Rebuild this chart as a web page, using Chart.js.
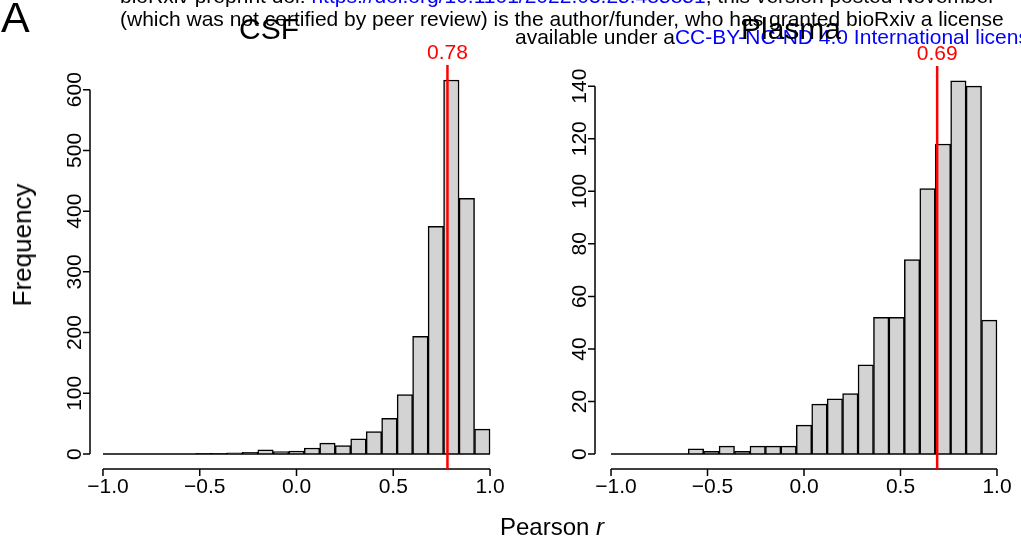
<!DOCTYPE html>
<html>
<head>
<meta charset="utf-8">
<script src="https://cdn.jsdelivr.net/npm/chart.js@4.4.1/dist/chart.umd.min.js"></script>
<style>
  html, body { margin: 0; padding: 0; background: #fff; }
  #wrap { position: relative; width: 1021px; height: 550px; overflow: hidden; font-family: "Liberation Sans", Arial, Helvetica, sans-serif; }
  canvas { position: absolute; left: 0; top: 0; }
  .txt { position: absolute; white-space: nowrap; line-height: 1; color: #000; }
  .blue { color: #0000ff; }
</style>
</head>
<body>
<div id="wrap">
  <canvas id="csf" width="1021" height="550"></canvas>
  <canvas id="plasma" width="1021" height="550"></canvas>

  <div class="txt" style="font-size:21px; left:120px; top:-15px;">bioRxiv preprint doi: <span class="blue">https://doi.org/10.1101/2022.03.25.485851</span>; this version posted November</div>
  <div class="txt" style="font-size:21px; left:120px; top:8px;">(which was not certified by peer review) is the author/funder, who has granted bioRxiv a license</div>
  <div class="txt" style="font-size:21px; left:515px; top:26px;">available under a<span class="blue">CC-BY-NC-ND 4.0 International license</span></div>

  <div class="txt" style="font-size:43px; left:1px; top:-4px;">A</div>
  <div class="txt" style="font-size:30px; left:269px; top:14px; transform:translateX(-50%);">CSF</div>
  <div class="txt" style="font-size:30px; left:791px; top:14px; transform:translateX(-50%);">Plasma</div>
  <div class="txt" style="font-size:26px; left:22px; top:245px; transform:translate(-50%,-50%) rotate(-90deg);">Frequency</div>
  <div class="txt" style="font-size:24px; left:552px; top:515px; transform:translateX(-50%);">Pearson <i>r</i></div>
</div>

<script>
// histogram bins: width 0.08 from -1 to 1
const binCenters = [-0.96, -0.88, -0.80, -0.72, -0.64, -0.56, -0.48, -0.40, -0.32, -0.24,
                    -0.16, -0.08, 0.00, 0.08, 0.16, 0.24, 0.32, 0.40, 0.48, 0.56,
                    0.64, 0.72, 0.80, 0.88, 0.96];
const csfCounts = [0, 0, 0, 0, 0, 0, 1, 1, 2, 3, 7, 4, 5, 10, 18, 14, 25, 37, 59, 98, 194, 375, 616, 421, 41];
const plasmaCounts = [0, 0, 0, 0, 0, 2, 1, 3, 1, 3, 3, 3, 11, 19, 21, 23, 34, 52, 52, 74, 101, 118, 142, 140, 51];

const xTicks = [-1, -0.5, 0, 0.5, 1];
const csfYTicks = [0, 100, 200, 300, 400, 500, 600];
const plasmaYTicks = [0, 20, 40, 60, 80, 100, 120, 140];

const csfMedian = 0.78;
const plasmaMedian = 0.69;

const FONT = '"Liberation Sans", Arial, Helvetica, sans-serif';

// R-style axes: detached lines spanning first..last tick, y labels parallel to axis
const rAxes = {
  id: 'rAxes',
  afterDraw(chart, args, opts) {
    const { ctx, chartArea: a, scales: { x, y } } = chart;
    ctx.save();
    ctx.strokeStyle = '#000';
    ctx.fillStyle = '#000';
    ctx.lineWidth = 1.5;
    ctx.font = '21px ' + FONT;

    // x axis
    const xb = a.bottom;
    ctx.beginPath();
    ctx.moveTo(x.getPixelForValue(xTicks[0]), xb);
    ctx.lineTo(x.getPixelForValue(xTicks[xTicks.length - 1]), xb);
    xTicks.forEach(v => {
      const px = x.getPixelForValue(v);
      ctx.moveTo(px, xb);
      ctx.lineTo(px, xb + 7);
    });
    ctx.stroke();
    ctx.textAlign = 'center';
    ctx.textBaseline = 'alphabetic';
    xTicks.forEach(v => {
      const lbl = v.toFixed(1).replace('-', '\u2212');
      ctx.fillText(lbl, x.getPixelForValue(v) + (v < 0 ? 5 : 0), xb + 24);
    });

    // y axis
    const yt = opts.yTicks;
    const yl = a.left;
    ctx.beginPath();
    ctx.moveTo(yl, y.getPixelForValue(yt[0]));
    ctx.lineTo(yl, y.getPixelForValue(yt[yt.length - 1]));
    yt.forEach(v => {
      const py = y.getPixelForValue(v);
      ctx.moveTo(yl, py);
      ctx.lineTo(yl - 7, py);
    });
    ctx.stroke();
    yt.forEach(v => {
      ctx.save();
      ctx.translate(yl - 9, y.getPixelForValue(v));
      ctx.rotate(-Math.PI / 2);
      ctx.textAlign = 'center';
      ctx.fillText(String(v), 0, 0);
      ctx.restore();
    });

    // red marker line with value on top
    const mx = x.getPixelForValue(opts.marker);
    ctx.strokeStyle = '#ff0000';
    ctx.fillStyle = '#ff0000';
    ctx.lineWidth = 2.5;
    ctx.beginPath();
    ctx.moveTo(mx, a.top);
    ctx.lineTo(mx, a.bottom);
    ctx.stroke();
    ctx.textAlign = 'center';
    ctx.fillText(opts.marker.toFixed(2), mx, a.top - 6);
    ctx.restore();
  }
};

function makeHist(id, counts, yTicks, marker, xMin, xMax, padding) {
  const ymax = Math.max(...counts);
  new Chart(document.getElementById(id), {
    type: 'bar',
    data: {
      datasets: [
        {
          type: 'line',
          data: [{ x: xTicks[0], y: 0 }, { x: xTicks[xTicks.length - 1], y: 0 }],
          borderColor: '#000',
          borderWidth: 1.5,
          pointRadius: 0,
          order: 0
        },
        {
          data: counts.map((c, i) => ({ x: binCenters[i], y: c })),
          backgroundColor: '#d3d3d3',
          borderColor: '#000',
          borderWidth: 1.5,
          barPercentage: 1,
          categoryPercentage: 1,
          order: 1
        }
      ]
    },
    options: {
      responsive: false,
      animation: false,
      layout: { padding },
      plugins: {
        legend: { display: false },
        tooltip: { enabled: false },
        rAxes: { yTicks, marker }
      },
      scales: {
        x: { type: 'linear', min: xMin, max: xMax, offset: false, display: false },
        y: { type: 'linear', min: -0.04 * ymax, max: 1.04 * ymax, display: false }
      }
    },
    plugins: [rAxes]
  });
}

makeHist('csf', csfCounts, csfYTicks, csfMedian, -1.067, 1.067,
  { left: 90, top: 65, right: 1021 - 503, bottom: 550 - 469 });
makeHist('plasma', plasmaCounts, plasmaYTicks, plasmaMedian, -1.083, 1.083,
  { left: 595, top: 66, right: 1021 - 1013, bottom: 550 - 469 });
</script>
</body>
</html>
